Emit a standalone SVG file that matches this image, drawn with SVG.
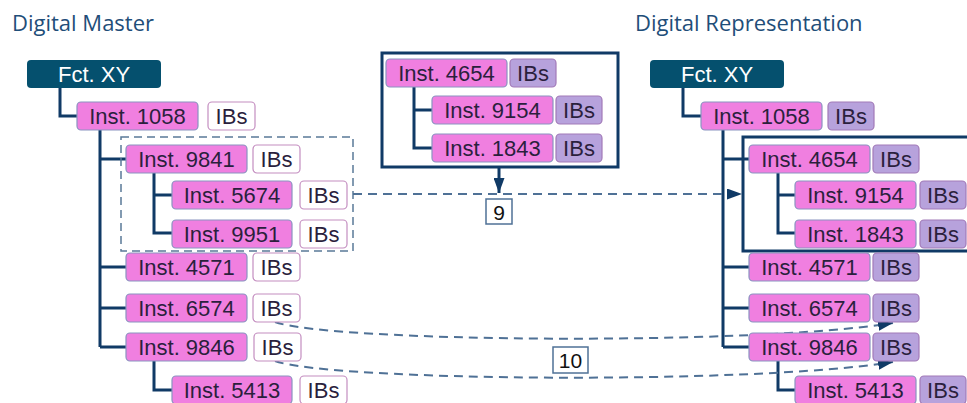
<svg xmlns="http://www.w3.org/2000/svg" width="967" height="403" viewBox="0 0 967 403">
<defs>
<style>
.title{font-family:"Open Sans","Noto Sans",sans-serif;font-size:22px;fill:#1f4e79}
.t{font-family:"Liberation Sans",Arial,sans-serif;font-size:22px;fill:#2b1f3d;text-anchor:middle;dominant-baseline:central}
.tw{font-family:"Liberation Sans",Arial,sans-serif;font-size:22px;fill:#ffffff;text-anchor:middle;dominant-baseline:central}
.lbl{font-family:"Liberation Sans",Arial,sans-serif;font-size:21px;fill:#111111;text-anchor:middle;dominant-baseline:central}
.fct{fill:#05506e}
.inst{fill:#f07fe0;stroke:#8a93c0;stroke-width:1.2}
.ibw{fill:#ffffff;stroke:#c48ec0;stroke-width:1.2}
.ibp{fill:#b7a2dc;stroke:#a27ab8;stroke-width:1.2}
.ln{fill:none;stroke:#103a66;stroke-width:3}
.frame{fill:none;stroke:#103a66;stroke-width:3}
.dashbox{fill:none;stroke:#5a7a98;stroke-width:1.5;stroke-dasharray:8 5}
.dash{fill:none;stroke:#4f7196;stroke-width:2;stroke-dasharray:9 6}
.lblbox{fill:#ffffff;stroke:#4f7196;stroke-width:1.5}
</style>
<marker id="ah" markerWidth="15" markerHeight="11" refX="15" refY="5.5" orient="auto" markerUnits="userSpaceOnUse">
<path d="M0,0 L15,5.5 L0,11 Z" fill="#103a66"/>
</marker>
</defs>
<rect width="967" height="403" fill="#ffffff"/>

<text class="title" x="12" y="31">Digital Master</text>
<text class="title" x="635" y="31">Digital Representation</text>

<g id="connectors">
<!-- left tree -->
<path class="ln" d="M60,88 V116 H77"/>
<path class="ln" d="M100,130 V347 M100,159 H126 M100,267 H126 M100,308 H126 M100,347 H126"/>
<path class="ln" d="M154,173 V233 H172 M154,195 H172"/>
<path class="ln" d="M154,361 V390 H172"/>
<!-- middle -->
<path class="ln" d="M414,87 V148 H432 M414,110 H432"/>
<path class="ln" d="M499,167 V193" stroke-width="2" marker-end="url(#ah)"/>
<!-- right tree -->
<path class="ln" d="M683,88 V116 H701"/>
<path class="ln" d="M723,130 V347 M723,159 H749 M723,267 H749 M723,308 H749 M723,347 H749"/>
<path class="ln" d="M778,173 V233 H795 M778,195 H795"/>
<path class="ln" d="M778,361 V390 H795"/>
<!-- dashed transfers -->
<rect class="dashbox" x="121" y="137" width="232" height="114"/>
<path class="dash" d="M353,194 H742" marker-end="url(#ah)"/>
<path class="dash" d="M275,322 C330,342 750,346 893,323" marker-end="url(#ah)"/>
<path class="dash" d="M275,361 C330,381 750,385 893,362" marker-end="url(#ah)"/>
</g>

<!-- frames -->
<rect id="frame-mid" class="frame" x="382" y="53" width="236" height="114"/>
<rect id="frame-right" class="frame" x="743" y="137" width="240" height="114"/>

<!-- left tree nodes -->
<g id="l-fct"><rect class="fct" x="27" y="60" width="134" height="28" rx="4"/><text class="tw" x="94" y="74">Fct. XY</text></g>
<g id="l-1058"><rect class="inst" x="77" y="102" width="121" height="28" rx="4"/><text class="t" x="137.5" y="116">Inst. 1058</text><rect class="ibw" x="208" y="102" width="47" height="28" rx="4"/><text class="t" x="231.5" y="116">IBs</text></g>
<g id="l-9841"><rect class="inst" x="126" y="145" width="121" height="28" rx="4"/><text class="t" x="186.5" y="159">Inst. 9841</text><rect class="ibw" x="253" y="145" width="47" height="28" rx="4"/><text class="t" x="276.5" y="159">IBs</text></g>
<g id="l-5674"><rect class="inst" x="172" y="181" width="120" height="28" rx="4"/><text class="t" x="232" y="195">Inst. 5674</text><rect class="ibw" x="300" y="181" width="47" height="28" rx="4"/><text class="t" x="323.5" y="195">IBs</text></g>
<g id="l-9951"><rect class="inst" x="172" y="220" width="120" height="28" rx="4"/><text class="t" x="232" y="234">Inst. 9951</text><rect class="ibw" x="300" y="220" width="47" height="28" rx="4"/><text class="t" x="323.5" y="234">IBs</text></g>
<g id="l-4571"><rect class="inst" x="126" y="253" width="121" height="28" rx="4"/><text class="t" x="186.5" y="267">Inst. 4571</text><rect class="ibw" x="253" y="253" width="47" height="28" rx="4"/><text class="t" x="276.5" y="267">IBs</text></g>
<g id="l-6574"><rect class="inst" x="126" y="294" width="121" height="28" rx="4"/><text class="t" x="186.5" y="308">Inst. 6574</text><rect class="ibw" x="253" y="294" width="47" height="28" rx="4"/><text class="t" x="276.5" y="308">IBs</text></g>
<g id="l-9846"><rect class="inst" x="126" y="333" width="121" height="28" rx="4"/><text class="t" x="186.5" y="347">Inst. 9846</text><rect class="ibw" x="254" y="333" width="47" height="28" rx="4"/><text class="t" x="277.5" y="347">IBs</text></g>
<g id="l-5413"><rect class="inst" x="172" y="376" width="120" height="28" rx="4"/><text class="t" x="232" y="390">Inst. 5413</text><rect class="ibw" x="300" y="376" width="47" height="28" rx="4"/><text class="t" x="323.5" y="390">IBs</text></g>

<!-- middle nodes -->
<g id="m-4654"><rect class="inst" x="386" y="59" width="121" height="28" rx="4"/><text class="t" x="446.5" y="73">Inst. 4654</text><rect class="ibp" x="510" y="59" width="46" height="28" rx="4"/><text class="t" x="533" y="73">IBs</text></g>
<g id="m-9154"><rect class="inst" x="432" y="96" width="121" height="28" rx="4"/><text class="t" x="492.5" y="110">Inst. 9154</text><rect class="ibp" x="556" y="96" width="46" height="28" rx="4"/><text class="t" x="579" y="110">IBs</text></g>
<g id="m-1843"><rect class="inst" x="432" y="134" width="121" height="28" rx="4"/><text class="t" x="492.5" y="148">Inst. 1843</text><rect class="ibp" x="556" y="134" width="46" height="28" rx="4"/><text class="t" x="579" y="148">IBs</text></g>

<!-- labels -->
<g id="label-9"><rect class="lblbox" x="486" y="199" width="26" height="25"/><text class="lbl" x="499" y="212">9</text></g>
<g id="label-10"><rect class="lblbox" x="553" y="347" width="35" height="26"/><text class="lbl" x="570.5" y="360.5">10</text></g>

<!-- right tree nodes -->
<g id="r-fct"><rect class="fct" x="650" y="60" width="134" height="28" rx="4"/><text class="tw" x="717" y="74">Fct. XY</text></g>
<g id="r-1058"><rect class="inst" x="701" y="102" width="121" height="28" rx="4"/><text class="t" x="761.5" y="116">Inst. 1058</text><rect class="ibp" x="828" y="102" width="46" height="28" rx="4"/><text class="t" x="851" y="116">IBs</text></g>
<g id="r-4654"><rect class="inst" x="749" y="145" width="121" height="28" rx="4"/><text class="t" x="809.5" y="159">Inst. 4654</text><rect class="ibp" x="873" y="145" width="46" height="28" rx="4"/><text class="t" x="896" y="159">IBs</text></g>
<g id="r-9154"><rect class="inst" x="795" y="181" width="121" height="28" rx="4"/><text class="t" x="855.5" y="195">Inst. 9154</text><rect class="ibp" x="920" y="181" width="46" height="28" rx="4"/><text class="t" x="943" y="195">IBs</text></g>
<g id="r-1843"><rect class="inst" x="795" y="220" width="121" height="28" rx="4"/><text class="t" x="855.5" y="234">Inst. 1843</text><rect class="ibp" x="920" y="220" width="46" height="28" rx="4"/><text class="t" x="943" y="234">IBs</text></g>
<g id="r-4571"><rect class="inst" x="749" y="253" width="121" height="28" rx="4"/><text class="t" x="809.5" y="267">Inst. 4571</text><rect class="ibp" x="873" y="253" width="46" height="28" rx="4"/><text class="t" x="896" y="267">IBs</text></g>
<g id="r-6574"><rect class="inst" x="749" y="294" width="121" height="28" rx="4"/><text class="t" x="809.5" y="308">Inst. 6574</text><rect class="ibp" x="873" y="294" width="46" height="28" rx="4"/><text class="t" x="896" y="308">IBs</text></g>
<g id="r-9846"><rect class="inst" x="749" y="333" width="121" height="28" rx="4"/><text class="t" x="809.5" y="347">Inst. 9846</text><rect class="ibp" x="873" y="333" width="46" height="28" rx="4"/><text class="t" x="896" y="347">IBs</text></g>
<g id="r-5413"><rect class="inst" x="795" y="376" width="121" height="28" rx="4"/><text class="t" x="855.5" y="390">Inst. 5413</text><rect class="ibp" x="920" y="376" width="46" height="28" rx="4"/><text class="t" x="943" y="390">IBs</text></g>
</svg>
